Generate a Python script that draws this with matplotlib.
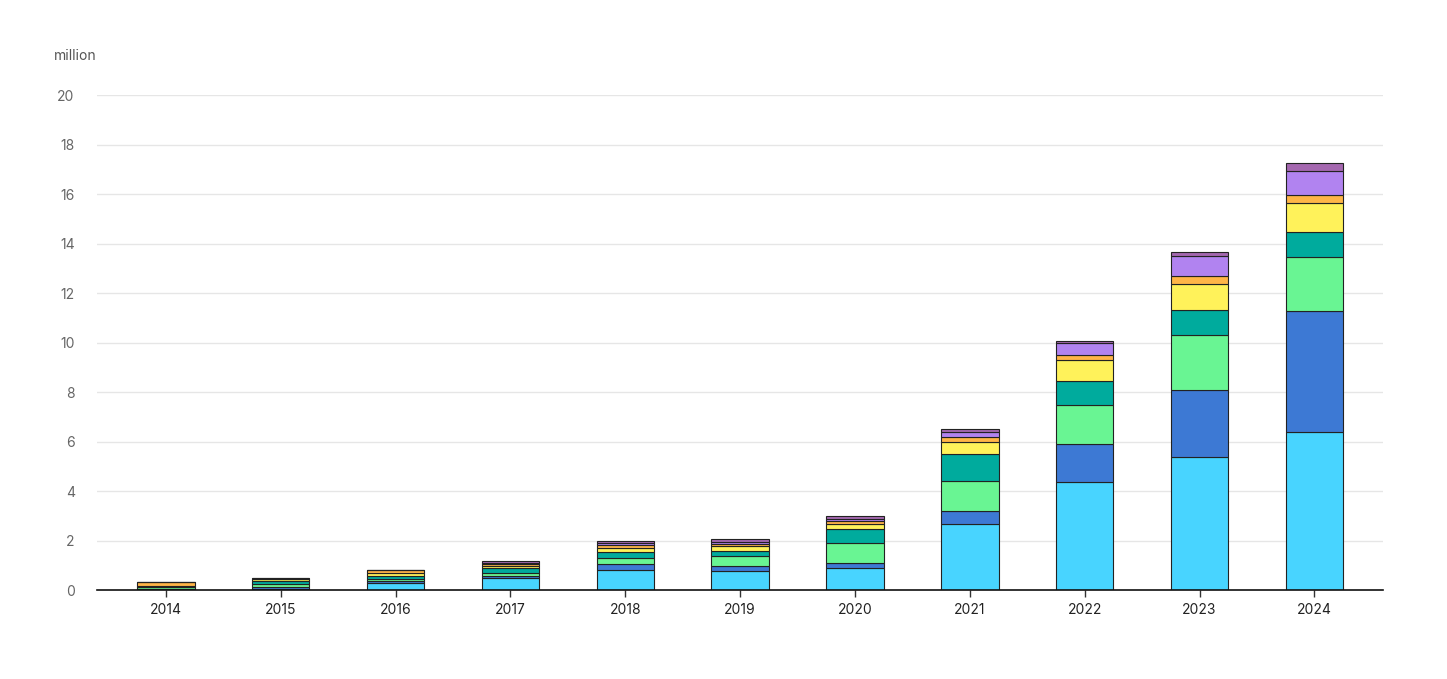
import matplotlib
matplotlib.use('Agg')
from matplotlib import pyplot as plt
import numpy as np

years = ['2014', '2015', '2016', '2017', '2018', '2019', '2020', '2021', '2022', '2023', '2024']

# stacked segments, bottom to top (million)
s_lightblue = [0.02, 0.06, 0.30, 0.47, 0.80, 0.78, 0.88, 2.67, 4.36, 5.37, 6.38]
s_blue      = [0.01, 0.08, 0.08, 0.10, 0.27, 0.20, 0.20, 0.53, 1.53, 2.71, 4.89]
s_green     = [0.08, 0.10, 0.06, 0.10, 0.23, 0.40, 0.81, 1.21, 1.59, 2.22, 2.18]
s_teal      = [0.01, 0.14, 0.11, 0.23, 0.22, 0.19, 0.57, 1.08, 0.98, 1.01, 1.01]
s_yellow    = [0.04, 0.06, 0.12, 0.08, 0.19, 0.20, 0.20, 0.48, 0.84, 1.05, 1.17]
s_orange    = [0.15, 0.02, 0.12, 0.08, 0.11, 0.09, 0.11, 0.20, 0.19, 0.32, 0.32]
s_lavender  = [0.00, 0.01, 0.01, 0.04, 0.08, 0.10, 0.10, 0.20, 0.48, 0.81, 1.00]
s_purple    = [0.00, 0.01, 0.01, 0.06, 0.09, 0.09, 0.11, 0.12, 0.10, 0.16, 0.32]

series = [s_lightblue, s_blue, s_green, s_teal, s_yellow, s_orange, s_lavender, s_purple]
colors = ['#48D4FF', '#3D79D4', '#69F593', '#00AB9D', '#FFF25A', '#FFB547', '#B183F0', '#A467AF']

plt.rcParams['font.family'] = ['Inter', 'DejaVu Sans']

fig = plt.figure(figsize=(14.47, 6.79), dpi=100)
ax = fig.add_axes([0.067, 0.131, 0.889, 0.729])

x = np.arange(len(years))
bottom = np.zeros(len(years))
for vals, c in zip(series, colors):
    ax.bar(x, vals, width=0.5, bottom=bottom, color=c, edgecolor='#222222', linewidth=0.8, zorder=3)
    bottom += np.array(vals)

ax.set_xlim(-0.6, 10.6)
ax.set_ylim(0, 20)
ax.set_yticks(np.arange(0, 21, 2))
ax.set_xticks(x)
ax.set_xticklabels(years)

ax.grid(axis='y', color='#e6e6e6', linewidth=1, zorder=0)
for side in ['top', 'right', 'left']:
    ax.spines[side].set_visible(False)
ax.spines['bottom'].set_color('#111111')
ax.spines['bottom'].set_linewidth(1.2)
ax.spines['bottom'].set_zorder(4)

ax.tick_params(axis='y', length=0, pad=16, labelsize=10, labelcolor='#666666')
ax.tick_params(axis='x', length=5, width=1, color='#333333', labelsize=10, labelcolor='#222222', pad=4)

fig.text(54 / 1447, 1 - 56 / 679, 'million', fontsize=10, color='#555555', va='center', ha='left')

plt.savefig('out.png')
